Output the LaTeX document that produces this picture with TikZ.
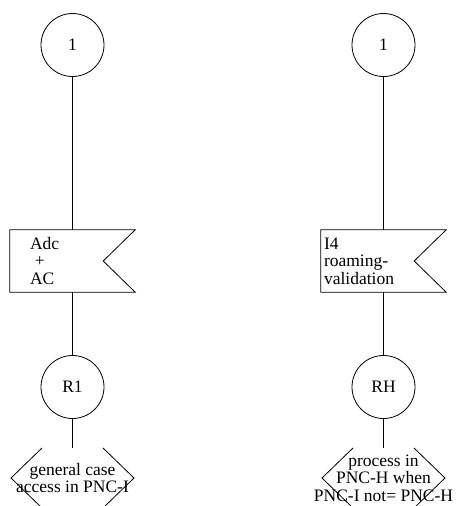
\documentclass[tikz,border=0pt]{standalone}
\usepackage{fontspec}
\setmainfont{Liberation Serif}
\usetikzlibrary{calc, positioning}

\begin{document}
\begin{tikzpicture}[
      x=1pt, y=-1pt,
      font=\fontsize{17.5}{17.5}\selectfont,
      conn/.style={draw, circle, minimum size=63pt, inner sep=0pt},
      inbox/.style={minimum height=62pt, inner ysep=0pt, align=left},
      hexa/.style={minimum height=60pt, inner sep=0pt, align=center},
      line/.style={draw, line width=0.8pt}]
    \useasboundingbox (0,0) rectangle (456,506);
    \node[conn, line width=0.8pt] (top1) at (72.5,45) {1};
    \node[inbox, inner xsep=20pt, text width=85pt] (in1) at (72.5,261) {Adc\\\hspace*{5pt}+\\AC};
    \node[conn, line width=0.8pt] (r1) at (72.5,387) {R1};
    \node[hexa] (cont1) at (72.5,478) {general case\\access in PNC-I};
    \node[conn, line width=0.8pt] (top2) at (383.5,45) {1};
    \node[inbox, inner xsep=3pt, text width=119pt] (in2) at (383.5,261) {I4\\roaming-\\validation};
    \node[conn, line width=0.8pt] (rh) at (383.5,387) {RH};
    \node[hexa] (cont2) at (383.5,478) {process in\\PNC-H when\\PNC-I not= PNC-H};
    \draw[line] (in1.north west) -- (in1.north east) -- ($(in1.east)+(-32,0)$) -- (in1.south east) -- (in1.south west) -- cycle;
    \draw[line] (in2.north west) -- (in2.north east) -- ($(in2.east)+(-32,0)$) -- (in2.south east) -- (in2.south west) -- cycle;
    \draw[line] ($(cont1.center)+(-30.5,-30)$) -- ($(cont1.center)+(-61.5,0)$) -- ($(cont1.center)+(-30.5,30)$);
    \draw[line] ($(cont1.center)+(30.5,-30)$) -- ($(cont1.center)+(61.5,0)$) -- ($(cont1.center)+(30.5,30)$);
    \draw[line] ($(cont2.center)+(-30.5,-30)$) -- ($(cont2.center)+(-61.5,0)$) -- ($(cont2.center)+(-30.5,30)$);
    \draw[line] ($(cont2.center)+(30.5,-30)$) -- ($(cont2.center)+(61.5,0)$) -- ($(cont2.center)+(30.5,30)$);
    \draw[line] (top1) -- (in1);
    \draw[line] (in1) -- (r1);
    \draw[line] (r1) -- ($(cont1.center)+(0,-30)$);
    \draw[line] (top2) -- (in2);
    \draw[line] (in2) -- (rh);
    \draw[line] (rh) -- ($(cont2.center)+(0,-30)$);
  \end{tikzpicture}
\end{document}
